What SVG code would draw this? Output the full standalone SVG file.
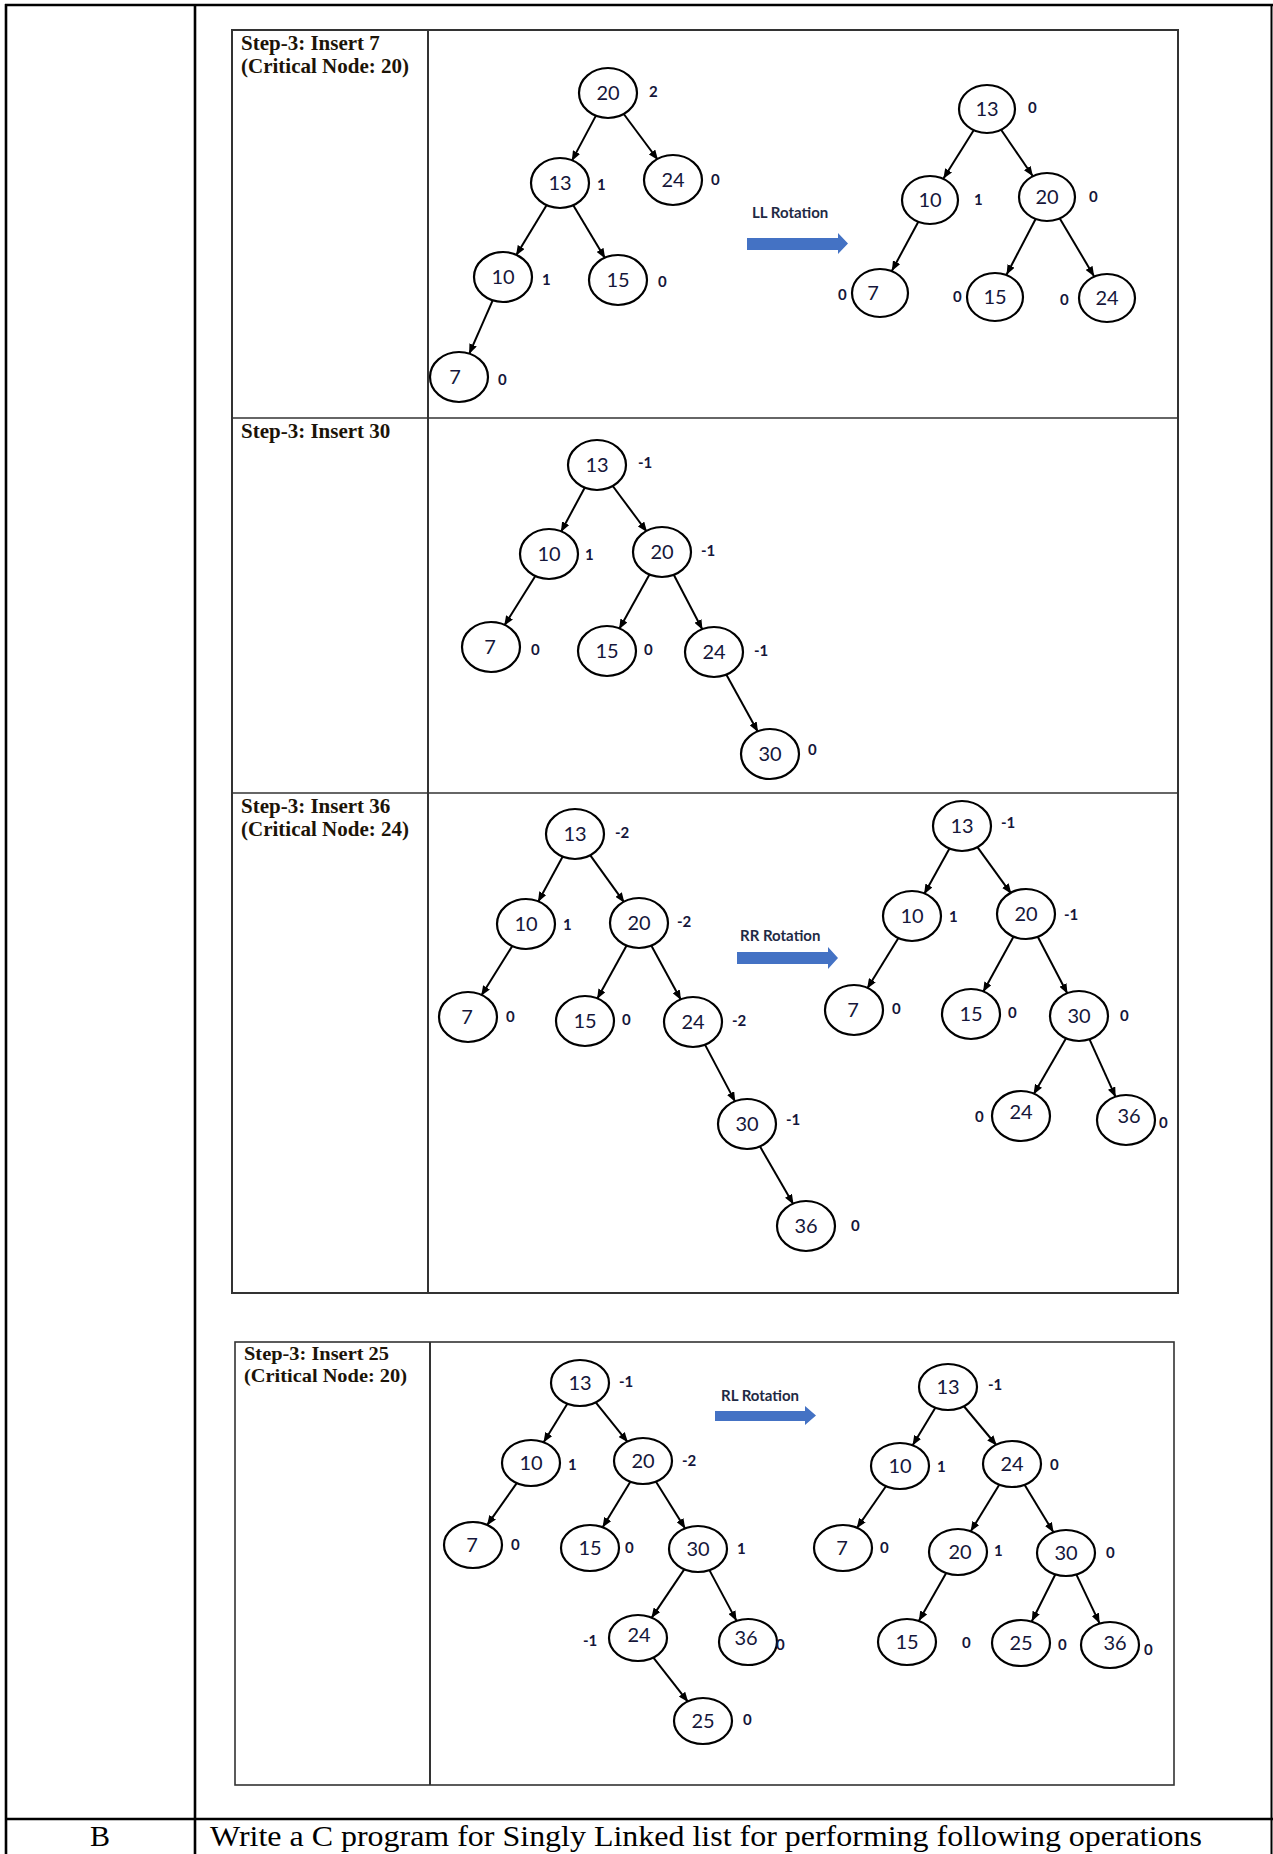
<svg xmlns="http://www.w3.org/2000/svg" width="1273" height="1854" viewBox="0 0 1273 1854">
  <defs>
    <marker id="ah" markerUnits="userSpaceOnUse" viewBox="0 0 10 8" markerWidth="10" markerHeight="8" refX="10" refY="4" orient="auto">
      <path d="M0,0 L10,4 L0,8 z" fill="#000"/>
    </marker>
  </defs>
  <style>
    .frame { stroke:#000; stroke-width:2.6; fill:none; }
    .box { stroke:#333; stroke-width:1.6; fill:none; }
    .lbl { font-family:"Liberation Serif","Times New Roman",serif; font-weight:bold; font-size:21px; fill:#1c1408; }
    .lbl.sm { font-size:19px; }
    .body { font-family:"Liberation Serif","Times New Roman",serif; font-size:30px; fill:#000; }
    .node ellipse { fill:#fff; stroke:#000; stroke-width:2.2; }
    .v { font-family:Lato,"Open Sans",sans-serif; font-size:20px; text-anchor:middle; fill:#15163a; }
    .bf { font-family:Lato,"Open Sans",sans-serif; font-weight:bold; font-size:15px; fill:#15163a; }
    .edge line { stroke:#000; stroke-width:2; marker-end:url(#ah); }
    .rot { fill:#4472C4; }
    .rotl { font-family:Lato,"Open Sans",sans-serif; font-weight:bold; font-size:15px; fill:#1f2a44; }
  </style>
  <rect x="0" y="0" width="1273" height="1854" fill="#fff"/>

  <!-- outer table -->
  <g id="table">
    <line class="frame" x1="5" y1="5" x2="1273" y2="5"/>
    <line class="frame" x1="6" y1="4" x2="6" y2="1854"/>
    <line class="frame" x1="195" y1="4" x2="195" y2="1854"/>
    <line class="frame" x1="1271.5" y1="4" x2="1271.5" y2="1854" style="stroke-width:2"/>
    <line class="frame" x1="5" y1="1819" x2="1273" y2="1819"/>
    <text class="body" x="100" y="1846" text-anchor="middle">B</text>
    <text class="body" x="210" y="1846" textLength="992" lengthAdjust="spacingAndGlyphs">Write a C program for Singly Linked list for performing following operations</text>
  </g>

  <!-- step boxes -->
  <g id="steps">
    <rect class="box" x="232" y="30" width="946" height="1263" style="stroke-width:2"/>
    <line class="box" x1="428" y1="30" x2="428" y2="1293" style="stroke-width:2"/>
    <line class="box" x1="232" y1="418" x2="1178" y2="418"/>
    <line class="box" x1="232" y1="793" x2="1178" y2="793"/>
    <rect class="box" x="235" y="1342" width="939" height="443"/>
    <line class="box" x1="430" y1="1342" x2="430" y2="1785" style="stroke-width:2"/>

    <text class="lbl" x="241" y="50">Step-3: Insert 7</text>
    <text class="lbl" x="241" y="73">(Critical Node: 20)</text>
    <text class="lbl" x="241" y="438">Step-3: Insert 30</text>
    <text class="lbl" x="241" y="813">Step-3: Insert 36</text>
    <text class="lbl" x="241" y="836">(Critical Node: 24)</text>
    <text class="lbl sm" x="244" y="1360" textLength="145" lengthAdjust="spacingAndGlyphs">Step-3: Insert 25</text>
    <text class="lbl sm" x="244" y="1382" textLength="163" lengthAdjust="spacingAndGlyphs">(Critical Node: 20)</text>
  </g>

  <!-- rotation arrows -->
  <g id="rotations">
    <text class="rotl" x="752" y="218">LL Rotation</text>
    <polygon class="rot" points="747,238 838,238 838,233 848,243.5 838,254 838,250 747,250"/>
    <text class="rotl" x="740" y="941">RR Rotation</text>
    <polygon class="rot" points="737,952 828,952 828,947 838,958 828,969 828,964 737,964"/>
    <text class="rotl" x="721" y="1401">RL Rotation</text>
    <polygon class="rot" points="715,1411 805,1411 805,1406 816,1415.5 805,1425 805,1421 715,1421"/>
  </g>

  <!-- tree edges -->
  <g id="connectors" class="edge">
    <!-- insert 7, before -->
    <line x1="596.2" y1="115.1" x2="571.8" y2="160.9"/>
    <line x1="623" y1="113" x2="658" y2="160"/>
    <line x1="547" y1="204.4" x2="516" y2="255.6"/>
    <line x1="572.8" y1="204.5" x2="605.2" y2="258.5"/>
    <line x1="492.9" y1="299.9" x2="469.1" y2="354.1"/>
    <!-- insert 7, after LL -->
    <line x1="973.7" y1="130.2" x2="943.3" y2="178.8"/>
    <line x1="1001.1" y1="129.7" x2="1032.9" y2="176.3"/>
    <line x1="918.2" y1="222" x2="891.8" y2="271"/>
    <line x1="1035.5" y1="219.2" x2="1006.5" y2="274.8"/>
    <line x1="1059.8" y1="218.5" x2="1094.2" y2="276.5"/>
    <!-- insert 30 -->
    <line x1="585.1" y1="487" x2="560.9" y2="532"/>
    <line x1="612" y1="485" x2="647" y2="532"/>
    <line x1="535.8" y1="575.2" x2="504.2" y2="625.8"/>
    <line x1="649.9" y1="573.8" x2="619.1" y2="629.2"/>
    <line x1="673.5" y1="574.2" x2="702.5" y2="629.8"/>
    <line x1="726" y1="673.9" x2="758" y2="732.1"/>
    <!-- insert 36, before -->
    <line x1="563" y1="856" x2="538" y2="902"/>
    <line x1="589.6" y1="854.3" x2="624.4" y2="902.7"/>
    <line x1="512.8" y1="945.2" x2="481.2" y2="995.8"/>
    <line x1="626.9" y1="944.9" x2="597.1" y2="999.1"/>
    <line x1="651" y1="944.9" x2="681" y2="1000.1"/>
    <line x1="704.7" y1="1044.1" x2="735.3" y2="1101.9"/>
    <line x1="759.5" y1="1145.6" x2="793.5" y2="1204.4"/>
    <!-- insert 36, after RR -->
    <line x1="949.9" y1="847.8" x2="924.1" y2="894.2"/>
    <line x1="976.7" y1="846.2" x2="1011.3" y2="893.8"/>
    <line x1="898.9" y1="937.3" x2="867.1" y2="988.7"/>
    <line x1="1013.9" y1="935.9" x2="983.1" y2="992.1"/>
    <line x1="1037.5" y1="936.2" x2="1067.5" y2="993.8"/>
    <line x1="1066.5" y1="1037.6" x2="1033.5" y2="1094.4"/>
    <line x1="1089.3" y1="1038.8" x2="1115.7" y2="1097.2"/>
    <!-- insert 25, before -->
    <line x1="567.5" y1="1403.5" x2="543.5" y2="1442.5"/>
    <line x1="595.1" y1="1401.7" x2="627.9" y2="1442.3"/>
    <line x1="517.1" y1="1482.6" x2="486.9" y2="1525.4"/>
    <line x1="630.5" y1="1481.5" x2="602.5" y2="1527.5"/>
    <line x1="655.7" y1="1481.3" x2="685.3" y2="1528.7"/>
    <line x1="684.6" y1="1568.9" x2="651.4" y2="1618.1"/>
    <line x1="709.4" y1="1570.1" x2="736.6" y2="1620.9"/>
    <line x1="652.8" y1="1656.9" x2="688.2" y2="1702.1"/>
    <!-- insert 25, after RL -->
    <line x1="935.5" y1="1407.5" x2="912.5" y2="1445.5"/>
    <line x1="963.3" y1="1405.5" x2="996.7" y2="1445.5"/>
    <line x1="886.3" y1="1485.7" x2="856.7" y2="1528.3"/>
    <line x1="999.4" y1="1484.5" x2="970.6" y2="1531.5"/>
    <line x1="1024.4" y1="1484.5" x2="1053.6" y2="1532.5"/>
    <line x1="946.2" y1="1572.9" x2="918.8" y2="1621.1"/>
    <line x1="1055.3" y1="1574.5" x2="1031.7" y2="1621.5"/>
    <line x1="1076.4" y1="1574.6" x2="1099.6" y2="1623.4"/>
  </g>

  <!-- insert 7, before -->
  <g id="a20" class="node"><ellipse cx="608" cy="93" rx="29" ry="25"/><text class="v" x="608" y="100">20</text><text class="bf" x="649" y="97">2</text></g>
  <g id="a13" class="node"><ellipse cx="560" cy="183" rx="29" ry="25"/><text class="v" x="560" y="190">13</text><text class="bf" x="597" y="190">1</text></g>
  <g id="a24" class="node"><ellipse cx="673" cy="180" rx="29" ry="25"/><text class="v" x="673" y="187">24</text><text class="bf" x="711" y="185">0</text></g>
  <g id="a10" class="node"><ellipse cx="503" cy="277" rx="29" ry="25"/><text class="v" x="503" y="284">10</text><text class="bf" x="542" y="285">1</text></g>
  <g id="a15" class="node"><ellipse cx="618" cy="280" rx="29" ry="25"/><text class="v" x="618" y="287">15</text><text class="bf" x="658" y="287">0</text></g>
  <g id="a7" class="node"><ellipse cx="459" cy="377" rx="29" ry="25"/><text class="v" x="455" y="384">7</text><text class="bf" x="498" y="385">0</text></g>

  <!-- insert 7, after LL -->
  <g id="b13" class="node"><ellipse cx="987" cy="109" rx="28" ry="24"/><text class="v" x="987" y="116">13</text><text class="bf" x="1028" y="113">0</text></g>
  <g id="b10" class="node"><ellipse cx="930" cy="200" rx="28" ry="24"/><text class="v" x="930" y="207">10</text><text class="bf" x="974" y="205">1</text></g>
  <g id="b20" class="node"><ellipse cx="1047" cy="197" rx="28" ry="24"/><text class="v" x="1047" y="204">20</text><text class="bf" x="1089" y="202">0</text></g>
  <g id="b7" class="node"><ellipse cx="880" cy="293" rx="28" ry="24"/><text class="v" x="873" y="300">7</text><text class="bf" x="838" y="300">0</text></g>
  <g id="b15" class="node"><ellipse cx="995" cy="297" rx="28" ry="24"/><text class="v" x="995" y="304">15</text><text class="bf" x="953" y="302">0</text></g>
  <g id="b24" class="node"><ellipse cx="1107" cy="298" rx="28" ry="24"/><text class="v" x="1107" y="305">24</text><text class="bf" x="1060" y="305">0</text></g>

  <!-- insert 30 -->
  <g id="c13" class="node"><ellipse cx="597" cy="465" rx="29" ry="25"/><text class="v" x="597" y="472">13</text><text class="bf" x="638" y="468">-1</text></g>
  <g id="c10" class="node"><ellipse cx="549" cy="554" rx="29" ry="25"/><text class="v" x="549" y="561">10</text><text class="bf" x="585" y="560">1</text></g>
  <g id="c20" class="node"><ellipse cx="662" cy="552" rx="29" ry="25"/><text class="v" x="662" y="559">20</text><text class="bf" x="701" y="556">-1</text></g>
  <g id="c7" class="node"><ellipse cx="491" cy="647" rx="29" ry="25"/><text class="v" x="490" y="654">7</text><text class="bf" x="531" y="655">0</text></g>
  <g id="c15" class="node"><ellipse cx="607" cy="651" rx="29" ry="25"/><text class="v" x="607" y="658">15</text><text class="bf" x="644" y="655">0</text></g>
  <g id="c24" class="node"><ellipse cx="714" cy="652" rx="29" ry="25"/><text class="v" x="714" y="659">24</text><text class="bf" x="754" y="656">-1</text></g>
  <g id="c30" class="node"><ellipse cx="770" cy="754" rx="29" ry="25"/><text class="v" x="770" y="761">30</text><text class="bf" x="808" y="755">0</text></g>

  <!-- insert 36, before -->
  <g id="d13" class="node"><ellipse cx="575" cy="834" rx="29" ry="25"/><text class="v" x="575" y="841">13</text><text class="bf" x="615" y="838">-2</text></g>
  <g id="d10" class="node"><ellipse cx="526" cy="924" rx="29" ry="25"/><text class="v" x="526" y="931">10</text><text class="bf" x="563" y="930">1</text></g>
  <g id="d20" class="node"><ellipse cx="639" cy="923" rx="29" ry="25"/><text class="v" x="639" y="930">20</text><text class="bf" x="677" y="927">-2</text></g>
  <g id="d7" class="node"><ellipse cx="468" cy="1017" rx="29" ry="25"/><text class="v" x="467" y="1024">7</text><text class="bf" x="506" y="1022">0</text></g>
  <g id="d15" class="node"><ellipse cx="585" cy="1021" rx="29" ry="25"/><text class="v" x="585" y="1028">15</text><text class="bf" x="622" y="1025">0</text></g>
  <g id="d24" class="node"><ellipse cx="693" cy="1022" rx="29" ry="25"/><text class="v" x="693" y="1029">24</text><text class="bf" x="732" y="1026">-2</text></g>
  <g id="d30" class="node"><ellipse cx="747" cy="1124" rx="29" ry="25"/><text class="v" x="747" y="1131">30</text><text class="bf" x="786" y="1125">-1</text></g>
  <g id="d36" class="node"><ellipse cx="806" cy="1226" rx="29" ry="25"/><text class="v" x="806" y="1233">36</text><text class="bf" x="851" y="1231">0</text></g>

  <!-- insert 36, after RR -->
  <g id="e13" class="node"><ellipse cx="962" cy="826" rx="29" ry="25"/><text class="v" x="962" y="833">13</text><text class="bf" x="1001" y="828">-1</text></g>
  <g id="e10" class="node"><ellipse cx="912" cy="916" rx="29" ry="25"/><text class="v" x="912" y="923">10</text><text class="bf" x="949" y="922">1</text></g>
  <g id="e20" class="node"><ellipse cx="1026" cy="914" rx="29" ry="25"/><text class="v" x="1026" y="921">20</text><text class="bf" x="1064" y="920">-1</text></g>
  <g id="e7" class="node"><ellipse cx="854" cy="1010" rx="29" ry="25"/><text class="v" x="853" y="1017">7</text><text class="bf" x="892" y="1014">0</text></g>
  <g id="e15" class="node"><ellipse cx="971" cy="1014" rx="29" ry="25"/><text class="v" x="971" y="1021">15</text><text class="bf" x="1008" y="1018">0</text></g>
  <g id="e30" class="node"><ellipse cx="1079" cy="1016" rx="29" ry="25"/><text class="v" x="1079" y="1023">30</text><text class="bf" x="1120" y="1021">0</text></g>
  <g id="e24" class="node"><ellipse cx="1021" cy="1116" rx="29" ry="25"/><text class="v" x="1021" y="1119">24</text><text class="bf" x="975" y="1122">0</text></g>
  <g id="e36" class="node"><ellipse cx="1126" cy="1120" rx="29" ry="25"/><text class="v" x="1129" y="1123">36</text><text class="bf" x="1159" y="1128">0</text></g>

  <!-- insert 25, before -->
  <g id="f13" class="node"><ellipse cx="580" cy="1383" rx="29" ry="23"/><text class="v" x="580" y="1390">13</text><text class="bf" x="619" y="1387">-1</text></g>
  <g id="f10" class="node"><ellipse cx="531" cy="1463" rx="29" ry="23"/><text class="v" x="531" y="1470">10</text><text class="bf" x="568" y="1470">1</text></g>
  <g id="f20" class="node"><ellipse cx="643" cy="1461" rx="29" ry="23"/><text class="v" x="643" y="1468">20</text><text class="bf" x="682" y="1466">-2</text></g>
  <g id="f7" class="node"><ellipse cx="473" cy="1545" rx="29" ry="23"/><text class="v" x="472" y="1552">7</text><text class="bf" x="511" y="1550">0</text></g>
  <g id="f15" class="node"><ellipse cx="590" cy="1548" rx="29" ry="23"/><text class="v" x="590" y="1555">15</text><text class="bf" x="625" y="1553">0</text></g>
  <g id="f30" class="node"><ellipse cx="698" cy="1549" rx="29" ry="23"/><text class="v" x="698" y="1556">30</text><text class="bf" x="737" y="1554">1</text></g>
  <g id="f24" class="node"><ellipse cx="638" cy="1638" rx="29" ry="23"/><text class="v" x="639" y="1642">24</text><text class="bf" x="583" y="1646">-1</text></g>
  <g id="f36" class="node"><ellipse cx="748" cy="1642" rx="29" ry="23"/><text class="v" x="746" y="1645">36</text><text class="bf" x="776" y="1650">0</text></g>
  <g id="f25" class="node"><ellipse cx="703" cy="1721" rx="29" ry="23"/><text class="v" x="703" y="1728">25</text><text class="bf" x="743" y="1725">0</text></g>

  <!-- insert 25, after RL -->
  <g id="g13" class="node"><ellipse cx="948" cy="1387" rx="29" ry="23"/><text class="v" x="948" y="1394">13</text><text class="bf" x="988" y="1390">-1</text></g>
  <g id="g10" class="node"><ellipse cx="900" cy="1466" rx="29" ry="23"/><text class="v" x="900" y="1473">10</text><text class="bf" x="937" y="1472">1</text></g>
  <g id="g24" class="node"><ellipse cx="1012" cy="1464" rx="29" ry="23"/><text class="v" x="1012" y="1471">24</text><text class="bf" x="1050" y="1470">0</text></g>
  <g id="g7" class="node"><ellipse cx="843" cy="1548" rx="29" ry="23"/><text class="v" x="842" y="1555">7</text><text class="bf" x="880" y="1553">0</text></g>
  <g id="g20" class="node"><ellipse cx="958" cy="1552" rx="29" ry="23"/><text class="v" x="960" y="1559">20</text><text class="bf" x="994" y="1556">1</text></g>
  <g id="g30" class="node"><ellipse cx="1066" cy="1553" rx="29" ry="23"/><text class="v" x="1066" y="1560">30</text><text class="bf" x="1106" y="1558">0</text></g>
  <g id="g15" class="node"><ellipse cx="907" cy="1642" rx="29" ry="23"/><text class="v" x="907" y="1649">15</text><text class="bf" x="962" y="1648">0</text></g>
  <g id="g25" class="node"><ellipse cx="1021" cy="1643" rx="29" ry="23"/><text class="v" x="1021" y="1650">25</text><text class="bf" x="1058" y="1650">0</text></g>
  <g id="g36" class="node"><ellipse cx="1110" cy="1645" rx="29" ry="23"/><text class="v" x="1115" y="1650">36</text><text class="bf" x="1144" y="1655">0</text></g>
</svg>
